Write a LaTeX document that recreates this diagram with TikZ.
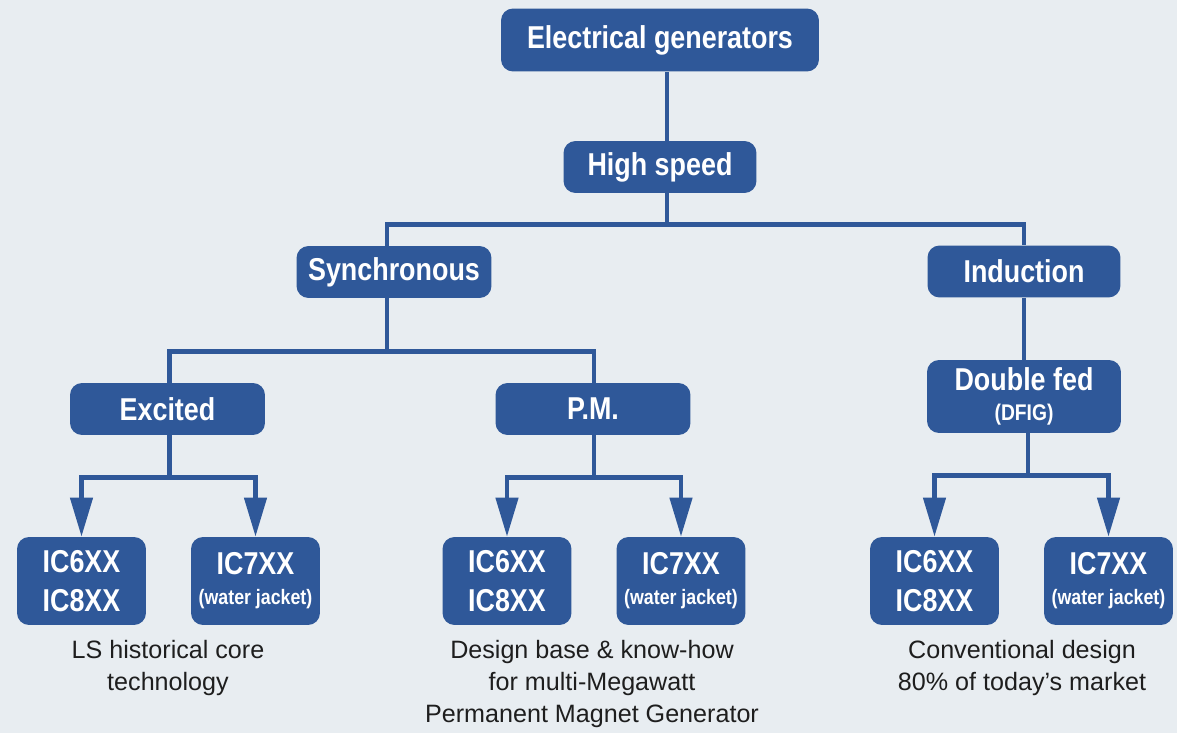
\documentclass[tikz,border=0pt]{standalone}
\usepackage{fontspec}
\setmainfont{Liberation Sans}
\newfontfamily\boxfont[FakeStretch=0.85]{Liberation Sans}
\usetikzlibrary{arrows.meta,positioning,calc}
\definecolor{boxblue}{HTML}{2F5899}
\definecolor{bggray}{HTML}{E8EDF1}
\definecolor{captext}{HTML}{1E1E1E}

\begin{document}
\begin{tikzpicture}[
    x=0.02cm, y=-0.02cm,
    gen/.style={fill=boxblue, rounded corners=0.24cm, text=white, inner sep=0pt, align=center,
      font=\boxfont\bfseries\fontsize{18}{22}\selectfont},
    wide/.style={gen, minimum width=3.9cm, minimum height=1.04cm},
    ic/.style={gen, minimum width=2.58cm, minimum height=1.76cm},
    link/.style={boxblue, line width=0.09cm},
    feed/.style={link, -{Triangle[width=0.44cm, length=0.78cm]}},
    caption/.style={anchor=north, align=center, inner sep=0pt, text=captext,
      font=\fontsize{14.3}{18.1}\selectfont},
  ]
  \fill[bggray] (0,0) rectangle (1177,733);
  % tree of boxes
  \node[gen, minimum width=6.36cm, minimum height=1.26cm] (top) at (660,40) {Electrical generators};
  \node[wide, minimum width=3.86cm] (hs) at (660,167) {High speed};
  \node[wide] (syn) at (394,272) {Synchronous};
  \node[wide, minimum width=3.86cm] (ind) at (1024,271.5) {Induction};
  \node[wide] (exc) at (167.5,409) {Excited};
  \node[wide] (pm) at (593,409) {P.M.};
  \node[wide, minimum width=3.88cm, minimum height=1.46cm] (dfig) at (1024,396.5)
    {Double fed\\[-5pt]{\fontsize{12.9}{14}\selectfont(DFIG)}};
  \node[ic] (ex6) at (81.5,581) {IC6XX\\IC8XX};
  \node[ic] (ex7) at (255.5,581) {IC7XX\\[-5pt]{\fontsize{11.9}{13}\selectfont(water jacket)}};
  \node[ic] (pm6) at (507,581) {IC6XX\\IC8XX};
  \node[ic] (pm7) at (681,581) {IC7XX\\[-5pt]{\fontsize{11.9}{13}\selectfont(water jacket)}};
  \node[ic] (df6) at (934.5,581) {IC6XX\\IC8XX};
  \node[ic] (df7) at (1108.5,581) {IC7XX\\[-5pt]{\fontsize{11.9}{13}\selectfont(water jacket)}};
  % notes under each group
  \node[caption] (capex) at (168,640) {LS historical core\\technology};
  \node[caption] (cappm) at (592,640) {Design base \& know-how\\for multi-Megawatt\\Permanent Magnet Generator};
  \node[caption] (capdf) at (1022,640) {Conventional design\\80\% of today’s market};
  % connectors
  \draw[link] ($(top.south)+(7,0)$) -- ($(hs.north)+(7,0)$);
  \draw[link] ($(hs.south)+(7,0)$) -- ++(0,31) -| ($(syn.north)+(-7,0)$);
  \draw[link] ($(hs.south)+(7,0)$) -- ++(0,31) -| (ind.north);
  \draw[link] ($(syn.south)+(-7,0)$) -- ++(0,53) -| ($(exc.north)+(2,0)$);
  \draw[link] ($(syn.south)+(-7,0)$) -- ++(0,53) -| ($(pm.north)+(1,0)$);
  \draw[link] (ind.south) -- (dfig.north);
  \draw[feed] ($(exc.south)+(2,0)$) -- ++(0,42) -| (ex6.north);
  \draw[feed] ($(exc.south)+(2,0)$) -- ++(0,42) -| (ex7.north);
  \draw[feed] ($(pm.south)+(1,0)$) -- ++(0,42) -| (pm6.north);
  \draw[feed] ($(pm.south)+(1,0)$) -- ++(0,42) -| (pm7.north);
  \draw[feed] ($(dfig.south)+(4,0)$) -- ++(0,42) -| (df6.north);
  \draw[feed] ($(dfig.south)+(4,0)$) -- ++(0,42) -| (df7.north);
\end{tikzpicture}
\end{document}
